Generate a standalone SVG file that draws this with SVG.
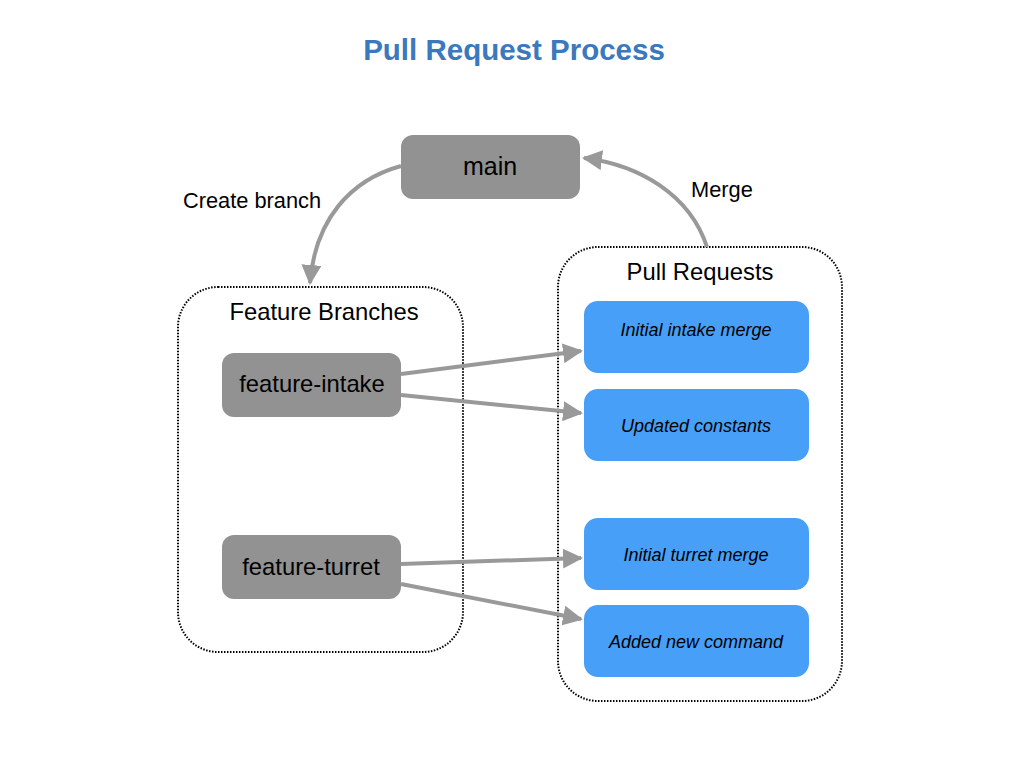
<svg xmlns="http://www.w3.org/2000/svg" width="1024" height="768" viewBox="0 0 1024 768">
<style>
text{font-family:"Liberation Sans",Arial,sans-serif;fill:#000}
.title{font-size:29.5px;font-weight:bold;fill:#3a79bd}
.gray{fill:#929292}
.blue{fill:#479ff7}
.cont{fill:none;stroke:#000;stroke-width:2;stroke-dasharray:1.5 1.5}
.lbl{font-size:21.8px}
.big{font-size:23.8px}
.it{font-size:18px;font-style:italic}
.conn{fill:none;stroke:#999;stroke-width:4}
</style>
<defs>
<marker id="ah" viewBox="0 0 10 10" refX="9" refY="5" markerWidth="5" markerHeight="5" markerUnits="strokeWidth" orient="auto">
<path d="M0,0 L10,5 L0,10 z" fill="#999"/>
</marker>
</defs>
<rect width="1024" height="768" fill="#fff"/>
<text class="title" x="514" y="60" text-anchor="middle">Pull Request Process</text>

<g id="feature-branches">
<rect class="cont" x="178" y="287" width="285" height="365" rx="40"/>
<text class="big" x="324" y="320" text-anchor="middle">Feature Branches</text>
</g>
<g id="pull-requests">
<rect class="cont" x="558" y="247" width="284" height="454" rx="40"/>
<text class="big" x="700" y="280" text-anchor="middle">Pull Requests</text>
</g>

<g id="main">
<rect class="gray" x="401" y="135" width="179" height="64" rx="12"/>
<text class="big" x="490" y="175" text-anchor="middle" style="font-size:25px">main</text>
</g>
<g id="feature-intake">
<rect class="gray" x="222" y="353" width="179" height="64" rx="12"/>
<text class="big" x="312" y="392" text-anchor="middle">feature-intake</text>
</g>
<g id="feature-turret">
<rect class="gray" x="222" y="535" width="179" height="64" rx="12"/>
<text class="big" x="311" y="575" text-anchor="middle">feature-turret</text>
</g>

<g id="pr-initial-intake">
<rect class="blue" x="584" y="301" width="225" height="72" rx="14"/>
<text class="it" x="696" y="336" text-anchor="middle">Initial intake merge</text>
</g>
<g id="pr-updated-constants">
<rect class="blue" x="584" y="389" width="225" height="72" rx="14"/>
<text class="it" x="696" y="432" text-anchor="middle">Updated constants</text>
</g>
<g id="pr-initial-turret">
<rect class="blue" x="584" y="518" width="225" height="72" rx="14"/>
<text class="it" x="696" y="561" text-anchor="middle">Initial turret merge</text>
</g>
<g id="pr-added-command">
<rect class="blue" x="584" y="605" width="225" height="72" rx="14"/>
<text class="it" x="696" y="648" text-anchor="middle">Added new command</text>
</g>

<g id="connectors">
<path class="conn" d="M401,166 C350,180 315,220 310,283" marker-end="url(#ah)"/>
<text class="lbl" x="183" y="208">Create branch</text>
<path class="conn" d="M707,247 C690,195 640,165 584,158" marker-end="url(#ah)"/>
<text class="lbl" x="691" y="197">Merge</text>
<path class="conn" d="M401,374 L581,351" marker-end="url(#ah)"/>
<path class="conn" d="M401,395 L581,413" marker-end="url(#ah)"/>
<path class="conn" d="M401,564 L581,558" marker-end="url(#ah)"/>
<path class="conn" d="M401,584 L581,619" marker-end="url(#ah)"/>
</g>
</svg>
